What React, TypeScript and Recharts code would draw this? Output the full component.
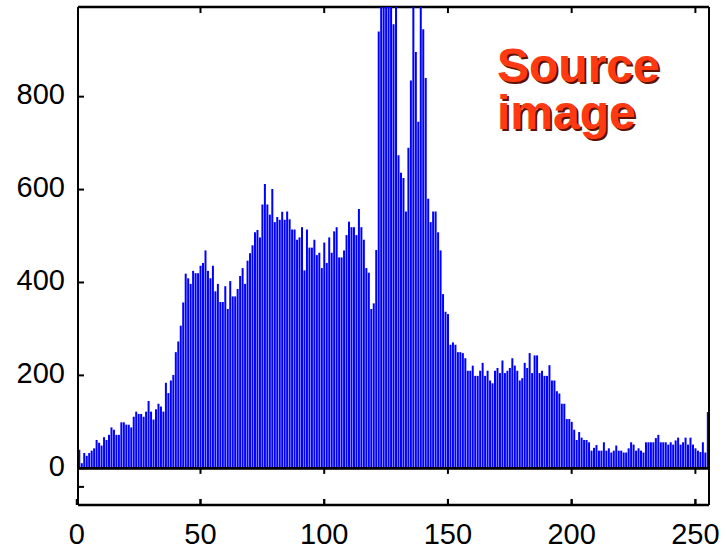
import React from 'react';
import { BarChart, Bar, XAxis, YAxis, ReferenceLine, CartesianGrid } from 'recharts';

// pixel counts per grey level 0..255
const counts: number[] = [
  35,
  40, 11, 33, 27, 33, 38, 43, 61, 55, 49, 67, 61, 72, 88, 83, 72, 72, 99, 99, 94,
  94, 88, 111, 122, 117, 117, 111, 122, 145, 122, 105, 127, 139, 133, 122, 184, 162, 189, 201, 250,
  273, 307, 357,
  419, 409, 397, 425, 420, 420, 436, 442, 469, 425, 409, 436, 381, 397, 358, 358, 392, 343, 403, 370,
  370, 386, 414, 431, 397, 447, 463, 480, 508, 513, 497, 568, 612, 568, 546, 601, 530, 541, 535, 552,
  535,
  553, 536, 514, 514, 492, 497, 519, 426, 514, 475, 475, 492, 459, 464, 431, 486, 442, 497, 464, 510,
  519, 454, 454, 469, 502, 531, 519, 519, 502, 558, 519, 492, 431, 421, 343, 355, 470, 940,
  1180, 1240, 1300, 1210, 1150, 956, 1120, 674, 636, 625, 553, 690, 835, 1060, 896, 746, 1090, 945, 840, 580,
  530, 553, 553, 508, 469, 375, 337, 332, 266, 271, 266, 250, 250, 248, 237,
  210, 210, 221, 199, 199, 210, 227, 199, 210, 189, 183, 210, 216, 205, 232, 205, 210, 216, 237, 221,
  210, 189, 194, 227, 216, 248,
  205, 243, 243, 205, 210, 199, 199, 222, 189, 189, 166, 161, 139, 139, 106, 106, 100, 83, 61, 78,
  66, 61, 61, 56, 38, 44, 50, 38,
  38, 56, 38, 43, 34, 38, 49, 38, 38, 34, 34, 43, 56, 51, 38, 43, 38, 34, 56, 56,
  56, 56, 65, 72, 56, 56, 56, 51, 56, 51, 60, 66, 51, 56, 66, 51, 66, 51, 43, 38,
  35, 56, 34, 121,
];

const xTicks = [0, 50, 100, 150, 200, 250];
const yTicks = [-40, 0, 200, 400, 600, 800];
const xDomain: [number, number] = [0.5, 255.5];
const yDomain: [number, number] = [-79, 993];
const title = ['Source', 'image'];

const data = counts.map((count, level) => ({ level, count }));

const font = 'Liberation Sans, Arial, Helvetica, sans-serif';

const App: React.FC = () => {
  const [y0, y1] = yDomain;
  // horizontal rules: bottom frame, zero line, top frame
  const rules = [y0, 0, y1];
  const innerTicks = xTicks.slice(1).flatMap((t) => [
    [{ x: t, y: y1 }, { x: t, y: y1 - 13 }],
    [{ x: t, y: 0 }, { x: t, y: -12 }],
    [{ x: t, y: y0 }, { x: t, y: y0 + 13 }],
  ]);

  return (
    <div style={{ position: 'absolute', left: 0, top: 0, width: 726, height: 550 }}>
      <BarChart
        width={726}
        height={550}
        data={data}
        margin={{ top: 7, right: 16, left: 0, bottom: 0 }}
        barCategoryGap="12%"
      >
        <CartesianGrid
          vertical={false}
          horizontalValues={rules}
          stroke="#000"
          strokeWidth={2.5}
          strokeOpacity={1}
        />
        <XAxis
          dataKey="level"
          type="number"
          domain={xDomain}
          allowDataOverflow
          ticks={xTicks}
          interval={0}
          height={45}
          tickSize={-6}
          tickMargin={24}
          axisLine={{ stroke: '#000', strokeWidth: 2 }}
          tickLine={{ stroke: '#000', strokeWidth: 2 }}
          tick={{ fill: '#000', fontSize: 29, fontFamily: font }}
        />
        <YAxis
          type="number"
          domain={yDomain}
          allowDataOverflow
          ticks={yTicks}
          interval={0}
          width={78}
          tickSize={-6}
          tickMargin={19}
          axisLine={{ stroke: '#000', strokeWidth: 2 }}
          tickLine={{ stroke: '#000', strokeWidth: 2 }}
          tickFormatter={(v: number) => (v < 0 ? '' : String(v))}
          tick={{ fill: '#000', fontSize: 29, fontFamily: font, dy: -3 }}
        />
        <YAxis
          yAxisId="right"
          orientation="right"
          type="number"
          domain={yDomain}
          allowDataOverflow
          ticks={yTicks}
          interval={0}
          width={1}
          tickSize={-6}
          axisLine={{ stroke: '#000', strokeWidth: 2 }}
          tickLine={{ stroke: '#000', strokeWidth: 2 }}
          tick={false}
        />
        <Bar dataKey="count" fill="#0000ff" isAnimationActive={false} />
        <ReferenceLine y={0} stroke="#000" strokeWidth={2.5} ifOverflow="visible" />
        {innerTicks.map((seg, i) => (
          <ReferenceLine key={`tick-${i}`} segment={seg} stroke="#000" strokeWidth={2} ifOverflow="visible" />
        ))}
      </BarChart>
      <div
        style={{
          position: 'absolute',
          left: 497,
          top: 42,
          fontFamily: font,
          fontWeight: 'bold',
          fontSize: 48,
          lineHeight: '47px',
          color: '#ff3a12',
          textShadow: '2px 2px 0 #5c1200',
        }}
      >
        {title.map((line) => (
          <div key={line}>{line}</div>
        ))}
      </div>
    </div>
  );
};

export default App;
